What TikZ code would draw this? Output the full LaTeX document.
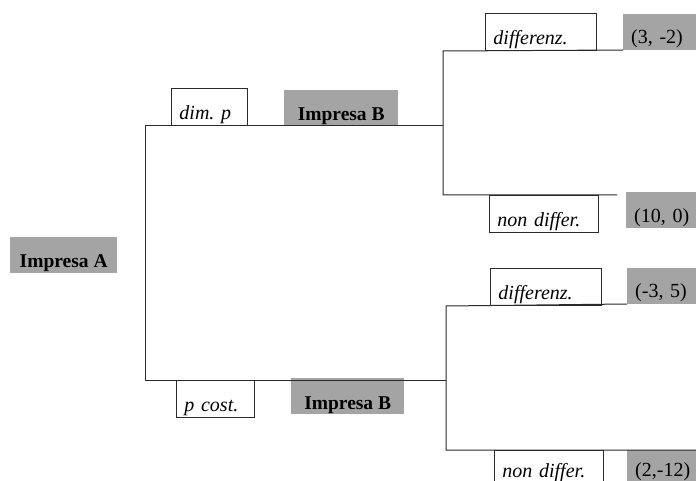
\documentclass[tikz,border=0pt]{standalone}
\usepackage{fontspec}
\setmainfont{Liberation Serif}
\usetikzlibrary{positioning}
\definecolor{scangray}{HTML}{A4A4A4}
\definecolor{inkline}{HTML}{2A2A2A}

\begin{document}
\begin{tikzpicture}[x=1pt,y=-1pt,
  firm/.style={fill=scangray, font=\fontsize{19.5}{22}\selectfont\bfseries, inner xsep=0pt, inner ysep=1pt, text height=30pt, text depth=4pt, align=center},
  move/.style={draw=inkline, line width=0.9pt, font=\fontsize{20}{22}\selectfont\itshape, inner xsep=8pt, inner ysep=1pt, text width=#1, text height=30pt, text depth=5pt, align=left},
  payoff/.style={fill=scangray, font=\fontsize{20}{22}\selectfont, inner xsep=8pt, inner ysep=1pt, text width=64pt, text height=29pt, text depth=5pt, align=left},
  branch/.style={draw=inkline, line width=1pt}]
\useasboundingbox (0,0) rectangle (696,481);
\clip (0,0) rectangle (696,481);
% first mover
\node[firm, minimum width=107pt, anchor=south west] (impA) at (10,273) {Impresa A};
\coordinate (rootT) at (145,126);
\coordinate (rootB) at (145,380);
\coordinate (upJ) at (443,126);
\coordinate (upT) at (443,51);
\coordinate (upB) at (443,195);
\coordinate (upE) at (617,195);
\coordinate (loJ) at (446,380);
\coordinate (loT) at (446,306);
\coordinate (loB) at (446,450);
\node[move=60pt, anchor=south west] (dimp) at (171,126) {dim.\ p};
\node[firm, minimum width=114pt, anchor=south west] (impB1) at (284,126) {Impresa B};
\node[move=62pt, anchor=north west] (pcost) at (176,380) {p cost.};
\node[firm, minimum width=113pt, anchor=north west] (impB2) at (291,378) {Impresa B};
% second mover, upper branch
\node[move=95pt, anchor=south west] (dif1) at (485,51) {differenz.};
\node[payoff, anchor=south west] (pay1) at (623,50) {(3, -2)};
\node[move=93pt, anchor=north west] (nd1) at (489,195) {non differ.};
\node[payoff, anchor=north west] (pay2) at (626,192) {(10, 0)};
% second mover, lower branch
\node[move=95pt, anchor=south west] (dif2) at (490,306) {differenz.};
\node[payoff, anchor=south west] (pay3) at (627,304) {(-3, 5)};
\node[move=93pt, text height=26pt, anchor=north west] (nd2) at (494,450) {non differ.};
\node[payoff, text height=25pt, anchor=north west] (pay4) at (627,450) {(2,-12)};
% branches
\draw[branch] (upJ) -- (rootT) -- (rootB) -- (loJ);
\draw[branch] (pay1.south west) -- (upT) -- (upB) -- (upE);
\draw[branch] (pay3.south west) -- (loT) -- (loB) -- (pay4.north east);
\end{tikzpicture}
\end{document}
